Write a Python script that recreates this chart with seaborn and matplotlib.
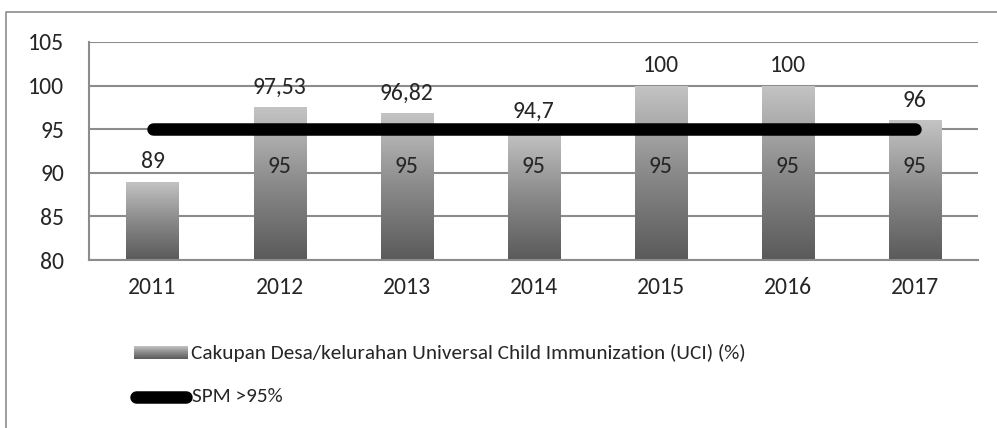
import numpy as np
import pandas as pd
import matplotlib
matplotlib.use("Agg")
import matplotlib.pyplot as plt
import seaborn as sns
from matplotlib.lines import Line2D
from matplotlib.colors import LinearSegmentedColormap

years = ["2011", "2012", "2013", "2014", "2015", "2016", "2017"]
uci = [89, 97.53, 96.82, 94.7, 100, 100, 96]
uci_labels = ["89", "97,53", "96,82", "94,7", "100", "100", "96"]
spm = [95, 95, 95, 95, 95, 95, 95]
spm_labels = ["", "95", "95", "95", "95", "95", "95"]

bar_name = "Cakupan Desa/kelurahan Universal Child Immunization (UCI) (%)"
line_name = "SPM >95%"

sns.set_style("white")
plt.rcParams["font.family"] = ["Carlito", "Lato", "DejaVu Sans"]

df = pd.DataFrame({"year": years, "uci": uci})
grad = LinearSegmentedColormap.from_list("g", ["#5a5a5a", "#8a8a8a", "#c4c4c4"])
grid_c = "#8c8c8c"

fig = plt.figure(figsize=(9.97, 4.28), dpi=100)
ax = fig.add_axes([0.0893, 0.3925, 0.8917, 0.5094])

sns.barplot(data=df, x="year", y="uci", width=0.41, color="#999999", ax=ax, zorder=2)

# gradient fill inside bars
img = np.linspace(0, 1, 256).reshape(-1, 1)
for p in ax.patches:
    x0, w, h = p.get_x(), p.get_width(), p.get_height()
    p.set_facecolor("none")
    p.set_edgecolor("none")
    im = ax.imshow(img, cmap=grad, origin="lower", aspect="auto",
                   extent=[x0, x0 + w, 80, h], zorder=2)
    im.set_clip_path(p)
ax.set_xlim(-0.5, len(years) - 0.5)
ax.set_ylim(80, 105)

sns.lineplot(x=np.arange(len(years)), y=spm, ax=ax, color="black", linewidth=9,
             solid_capstyle="round", zorder=4)

fs = 17
for i, (v, lab) in enumerate(zip(uci, uci_labels)):
    ax.annotate(lab, (i, v), xytext=(0, 7), textcoords="offset points",
                ha="center", va="bottom", fontsize=fs, zorder=5)
for i, (v, lab) in enumerate(zip(spm, spm_labels)):
    ax.annotate(lab, (i, v), xytext=(0, -27), textcoords="offset points",
                ha="center", va="center", fontsize=fs, zorder=5)

ax.set_yticks(range(80, 106, 5))
ax.grid(axis="y", color=grid_c, linewidth=1.5, zorder=0)
ax.set_axisbelow(True)
for s in ["top", "right"]:
    ax.spines[s].set_visible(False)
for s in ["left", "bottom"]:
    ax.spines[s].set_color(grid_c)
    ax.spines[s].set_linewidth(1.5)
ax.set_xlabel("")
ax.set_ylabel("")
ax.tick_params(axis="y", length=6, color=grid_c, width=1.5, labelsize=fs, pad=12)
ax.tick_params(axis="x", length=0, labelsize=fs, pad=12)
ax.set_xticks(np.arange(-0.5, len(years), 1), minor=True)
ax.tick_params(axis="x", which="minor", length=7, color=grid_c, width=1.5)

# legend drawn by hand in figure pixels
W, H = 997, 428
lfs = 15.3
lax = fig.add_axes([134 / W, 1 - 359 / H, 54 / W, 13 / H])
lax.imshow(img, cmap=grad, origin="lower", aspect="auto")
lax.set_axis_off()
fig.text(191 / W, 1 - 353 / H, bar_name, fontsize=lfs, va="center", ha="left")
fig.add_artist(Line2D([136 / W, 186 / W], [1 - 397 / H] * 2, transform=fig.transFigure,
                      color="black", linewidth=9, solid_capstyle="round"))
fig.text(192 / W, 1 - 397 / H, line_name, fontsize=lfs, va="center", ha="left")

# chart border
fig.add_artist(Line2D([6 / W, 6 / W, 1.0], [0.0, 1 - 12 / H, 1 - 12 / H],
                      transform=fig.transFigure, color="#8c8c8c", linewidth=1.2))

fig.savefig("out.png", dpi=100)
